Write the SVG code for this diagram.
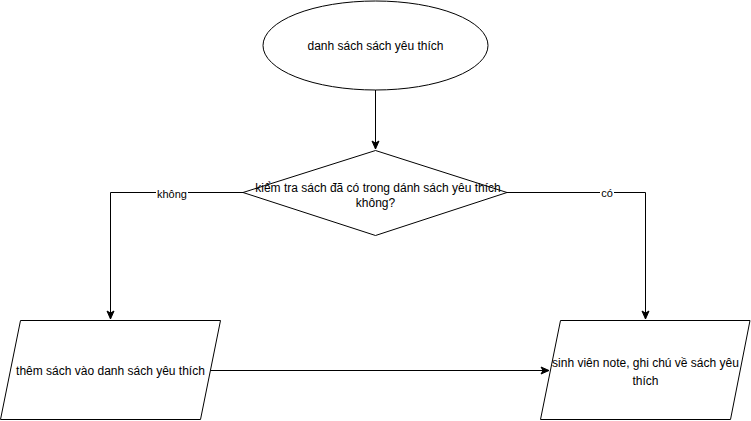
<svg xmlns="http://www.w3.org/2000/svg" width="751" height="421" viewBox="0 0 751 421">
<defs>
<marker id="arr" markerWidth="10" markerHeight="10" refX="9" refY="5" orient="auto" markerUnits="userSpaceOnUse">
<path d="M1,1.5 L9,5 L1,8.5 L3,5 Z" fill="#000" stroke="#000" stroke-width="1"/>
</marker>
</defs>
<style>
.shape{fill:#fff;stroke:#000;stroke-width:1}
.t{font-family:"Liberation Sans",Arial,sans-serif;font-size:12px;fill:#000;text-anchor:middle}
.lbl{font-family:"Liberation Sans",Arial,sans-serif;font-size:11px;fill:#000;text-anchor:middle}
.edge{fill:none;stroke:#000;stroke-width:1}
</style>
<rect width="751" height="421" fill="#fff"/>
<g id="connectors">
<path class="edge" d="M375.5,90 L375.5,149" marker-end="url(#arr)"/>
<path class="edge" d="M243,192.5 L110.5,192.5 L110.5,319" marker-end="url(#arr)"/>
<path class="edge" d="M507,192.5 L645.5,192.5 L645.5,319" marker-end="url(#arr)"/>
<path class="edge" d="M210,370.5 L549,370.5" marker-end="url(#arr)"/>
<rect x="156" y="187" width="32" height="12" fill="#fff"/>
<text class="lbl" x="172" y="197.5">không</text>
<rect x="600" y="187" width="14" height="12" fill="#fff"/>
<text class="lbl" x="607" y="197">có</text>
</g>
<g id="start">
<ellipse class="shape" cx="375.5" cy="45.5" rx="112.5" ry="44.5"/>
<text class="t" x="375.5" y="49.5">danh sách sách yêu thích</text>
</g>
<g id="decision">
<polygon class="shape" points="375.5,150.5 507,192.5 375.5,235.5 243,192.5"/>
<text class="t" x="378" y="192">kiểm tra sách đã có trong dánh sách yêu thích</text>
<text class="t" x="375.5" y="207">không?</text>
</g>
<g id="add">
<polygon class="shape" points="20.5,320.5 220.5,320.5 200.5,419.5 0.5,419.5"/>
<text class="t" x="110.5" y="375">thêm sách vào danh sách yêu thích</text>
</g>
<g id="note">
<polygon class="shape" points="560.5,320.5 750,320.5 730.5,419.5 540.5,419.5"/>
<text class="t" x="645.5" y="367">sinh viên note, ghi chú về sách yêu</text>
<text class="t" x="645.5" y="385">thích</text>
</g>
</svg>
